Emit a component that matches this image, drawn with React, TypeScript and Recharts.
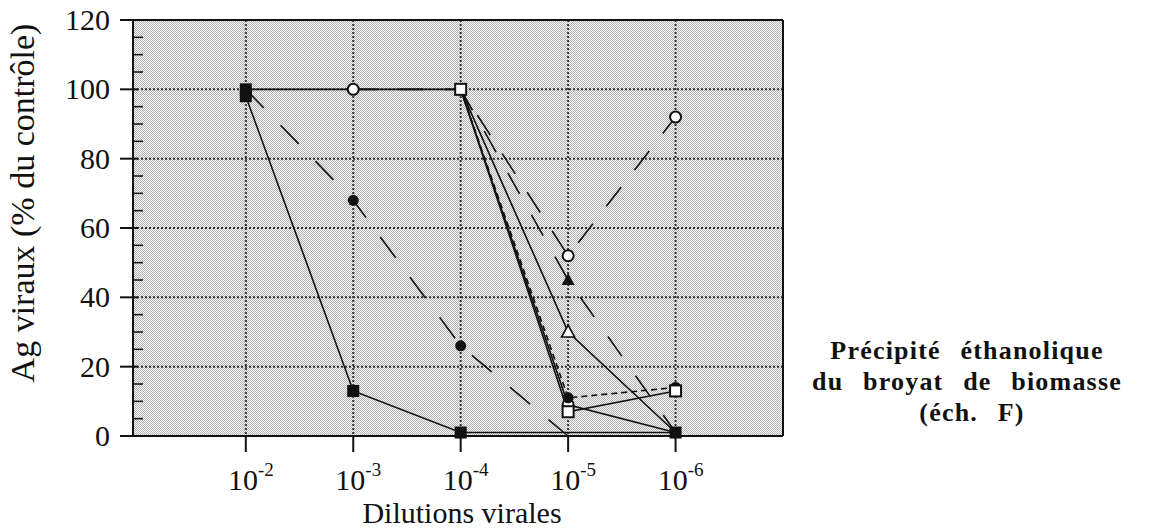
import React from 'react';
import { LineChart, Line, XAxis, YAxis, CartesianGrid } from 'recharts';

// dilution exponents: 10^-2 ... 10^-6
const exponents = [2, 3, 4, 5, 6];
const xTicks = [2, 3, 4, 5, 6];
const yTicks = [0, 5, 10, 15, 20, 25, 30, 35, 40, 45, 50, 55, 60, 65, 70, 75, 80, 85, 90, 95, 100, 105, 110, 115, 120];
const gridY = [20, 40, 60, 80, 100];

// series values (% du contrôle), one per dilution
const sqFilledTop = [100, null, null, null, null];
const sqFilled = [98, 13, 1, null, 1];
const circFilled = [100, 68, 26, 0, null];
const circOpen = [null, 100, 100, 52, 92];
const sqOpen = [100, 100, 100, 7, 13];
const triOpen = [null, null, 100, 30, 1];
const triFilled = [null, null, 100, 45, 1];
const circSmall = [null, null, 100, 11, 14];
const circOpen2 = [null, null, 100, 9, 1];

const rows = exponents.map((e, i) => ({
  e,
  sqFilledTop: sqFilledTop[i],
  sqFilled: sqFilled[i],
  circFilled: circFilled[i],
  circOpen: circOpen[i],
  sqOpen: sqOpen[i],
  triOpen: triOpen[i],
  triFilled: triFilled[i],
  circSmall: circSmall[i],
  circOpen2: circOpen2[i],
}));

const SERIF = "'Liberation Serif', 'DejaVu Serif', serif";
const INK = '#111';
const serifStyle = { fontFamily: SERIF };

type Kind = 'sqF' | 'sqO' | 'ciF' | 'ciO' | 'trO' | 'trF';

const makeDot = (kind: Kind, hideAt: number[] = []) => (props: any) => {
  const { cx, cy, index } = props;
  const k = `dot-${kind}-${index}`;
  if (cx == null || cy == null || hideAt.includes(index)) return <g key={k} />;
  switch (kind) {
    case 'sqF':
      return <rect key={k} x={cx - 6} y={cy - 6} width={12} height={12} fill={INK} />;
    case 'sqO':
      return <rect key={k} x={cx - 5.5} y={cy - 5.5} width={11} height={11} fill="#fff" stroke={INK} strokeWidth={2} />;
    case 'ciF':
      return <circle key={k} cx={cx} cy={cy} r={5.5} fill={INK} />;
    case 'ciO':
      return <circle key={k} cx={cx} cy={cy} r={5.5} fill="#fff" stroke={INK} strokeWidth={2} />;
    case 'trO':
      return <polygon key={k} points={`${cx},${cy - 7} ${cx - 6.5},${cy + 5} ${cx + 6.5},${cy + 5}`} fill="#fff" stroke={INK} strokeWidth={1.6} />;
    default:
      return <polygon key={k} points={`${cx},${cy - 7} ${cx - 6.5},${cy + 5} ${cx + 6.5},${cy + 5}`} fill={INK} />;
  }
};

const XTick = (props: any) => {
  const { x, y, payload } = props;
  return (
    <text x={x + 5} y={y + 36} textAnchor="middle" style={serifStyle} fontSize={30} fill={INK}>
      10<tspan fontSize={19} dy={-14}>{`-${payload.value}`}</tspan>
    </text>
  );
};

const YTick = (props: any) => {
  const { x, y, payload } = props;
  const ax = x + 13 + 10; // axis line x
  const v = payload.value;
  if (v % 20 === 0) {
    return (
      <g>
        <line x1={ax - 13} x2={ax + 5} y1={y} y2={y} stroke={INK} strokeWidth={2} />
        <text x={x} y={y} dy={10} textAnchor="end" style={serifStyle} fontSize={30} fill={INK}>
          {v}
        </text>
      </g>
    );
  }
  return <line x1={ax} x2={ax + 10} y1={y} y2={y} stroke={INK} strokeWidth={1.5} />;
};

const lineProps = {
  type: 'linear' as const,
  stroke: INK,
  strokeWidth: 1.6,
  activeDot: false,
  isAnimationActive: false,
};

export default function App() {
  return (
    <div style={{ position: 'absolute', left: 0, top: 0, width: 1151, height: 528, background: '#fff', fontFamily: SERIF }}>
      <LineChart width={1151} height={528} data={rows} margin={{ top: 19, right: 367, bottom: 0, left: 0 }}>
        <defs>
          <pattern id="dither" width="2" height="2" patternUnits="userSpaceOnUse">
            <rect width="2" height="2" fill="#f7f7f7" />
            <rect x="0" y="0" width="1" height="1" fill="#b4b4b4" />
            <rect x="1" y="1" width="1" height="1" fill="#b4b4b4" />
          </pattern>
        </defs>
        <CartesianGrid
          fill="url(#dither)"
          fillOpacity={1}
          stroke="#333"
          strokeWidth={2}
          strokeDasharray="2 2"
          horizontalValues={gridY}
          verticalValues={xTicks}
        />
        <XAxis
          dataKey="e"
          type="number"
          domain={[0.95, 7]}
          ticks={xTicks}
          interval={0}
          allowDataOverflow
          height={92}
          tickSize={16}
          tickMargin={2}
          axisLine={{ stroke: INK, strokeWidth: 2 }}
          tickLine={{ stroke: INK, strokeWidth: 2 }}
          tick={XTick}
        />
        <XAxis
          xAxisId="top"
          orientation="top"
          dataKey="e"
          type="number"
          domain={[0.95, 7]}
          height={1}
          tick={false}
          tickLine={false}
          axisLine={{ stroke: INK, strokeWidth: 2 }}
        />
        <YAxis
          domain={[0, 120]}
          ticks={yTicks}
          interval={0}
          width={133}
          tickSize={13}
          tickMargin={10}
          tickLine={false}
          axisLine={{ stroke: INK, strokeWidth: 2 }}
          tick={YTick}
        />
        <YAxis
          yAxisId="right"
          orientation="right"
          domain={[0, 120]}
          width={1}
          tick={false}
          tickLine={false}
          axisLine={{ stroke: INK, strokeWidth: 2 }}
        />
        <Line {...lineProps} dataKey="triFilled" strokeDasharray="24 24" dot={makeDot('trF', [2, 4])} />
        <Line {...lineProps} dataKey="triOpen" dot={makeDot('trO', [2, 4])} />
        <Line {...lineProps} dataKey="circOpen2" dot={makeDot('ciO', [2, 4])} />
        <Line {...lineProps} dataKey="circSmall" strokeDasharray="6 4" dot={makeDot('ciF', [2])} />
        <Line {...lineProps} dataKey="circOpen" strokeDasharray="24 22" dot={makeDot('ciO', [2])} />
        <Line {...lineProps} dataKey="sqOpen" dot={makeDot('sqO', [0, 1])} />
        <Line {...lineProps} dataKey="circFilled" strokeDasharray="26 24" dot={makeDot('ciF', [0, 3])} />
        <Line {...lineProps} dataKey="sqFilled" connectNulls dot={makeDot('sqF')} />
        <Line {...lineProps} dataKey="sqFilledTop" dot={makeDot('sqF')} />
      </LineChart>
      <svg width={1151} height={528} style={{ position: 'absolute', left: 0, top: 0, pointerEvents: 'none' }}>
        <text x={34} y={203} transform="rotate(-90 34 203)" textAnchor="middle" style={serifStyle} fontSize={34} fill={INK}>
          Ag viraux (% du contrôle)
        </text>
        <text x={462} y={523} textAnchor="middle" style={serifStyle} fontSize={30} fill={INK}>
          Dilutions virales
        </text>
        <g style={{ ...serifStyle, whiteSpace: 'pre' }} fontSize={26} fontWeight="bold" fill={INK} textAnchor="middle">
          <text x={967} y={359} wordSpacing={12} letterSpacing={1.2}>Précipité éthanolique</text>
          <text x={967} y={390} wordSpacing={12} letterSpacing={1.2}>du broyat de biomasse</text>
          <text x={972} y={421} wordSpacing={12} letterSpacing={1.2}>(éch.  F)</text>
        </g>
      </svg>
    </div>
  );
}
